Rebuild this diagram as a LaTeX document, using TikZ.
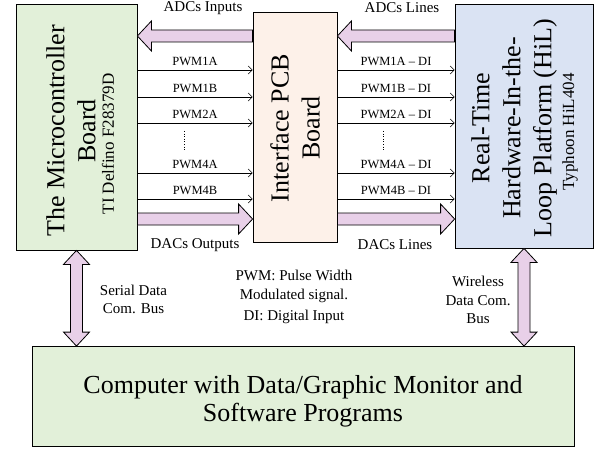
\documentclass[tikz,border=0pt]{standalone}
\usepackage{fontspec}
\setmainfont{Liberation Serif}
\usetikzlibrary{calc,arrows.meta}
\definecolor{boardgreen}{HTML}{E2F0D9}
\definecolor{pcbpeach}{HTML}{FDF1E9}
\definecolor{hilblue}{HTML}{DAE3F3}
\definecolor{buspink}{HTML}{E8D0E8}
% fat horizontal bus arrow from #1 to #2
\newcommand{\fatbus}[2]{%
  \draw[fatarrow] let \p1=(#1), \p2=(#2), \n1={ifthenelse(\x2>\x1,1,-1)} in
    (\x1,\y1+6pt) -- (\x2-\n1*14pt,\y1+6pt) -- (\x2-\n1*14pt,\y1+15pt) -- (\x2,\y1)
    -- (\x2-\n1*14pt,\y1-15pt) -- (\x2-\n1*14pt,\y1-6pt) -- (\x1,\y1-6pt) -- cycle;}
% fat vertical two-way arrow, #1 on top
\newcommand{\fatlink}[2]{%
  \draw[fatarrow] let \p1=(#1), \p2=(#2) in
    (\x1,\y1) -- (\x1+13pt,\y1-14pt) -- (\x1+6pt,\y1-14pt) -- (\x1+6pt,\y2+14pt)
    -- (\x1+13pt,\y2+14pt) -- (\x1,\y2) -- (\x1-13pt,\y2+14pt) -- (\x1-6pt,\y2+14pt)
    -- (\x1-6pt,\y1-14pt) -- (\x1-13pt,\y1-14pt) -- cycle;}
\begin{document}
\begin{tikzpicture}[x=1pt,y=1pt,
    box/.style={draw,rectangle,inner sep=0pt,line width=0.8pt},
    bigtext/.style={font=\fontsize{26}{31}\selectfont,align=center,inner sep=0pt},
    subtext/.style={font=\fontsize{17}{20}\selectfont,inner sep=0pt},
    note/.style={font=\fontsize{15}{18.5}\selectfont,align=center,inner sep=0pt},
    sig/.style={font=\fontsize{12.5}{15}\selectfont,inner sep=0pt},
    wire/.style={-{Straight Barb[length=4pt,width=8pt]},line width=0.6pt},
    fatarrow/.style={draw,fill=buspink,line width=0.8pt,line join=miter}]
  \useasboundingbox (0,0) rectangle (608,448);
  % boxes
  \node[box,fill=boardgreen,minimum width=121pt,minimum height=246pt] (mcu) at (76.5,321) {};
  \node[box,fill=pcbpeach,minimum width=84pt,minimum height=230pt] (pcb) at (295,321) {};
  \node[box,fill=hilblue,minimum width=138pt,minimum height=244pt] (hil) at (524,322) {};
  \node[box,fill=boardgreen,minimum width=542pt,minimum height=100pt] (pc) at (303,51.5) {};
  % box texts
  \node[bigtext,rotate=90] (mcutxt) at (71,317) {The Microcontroller\\Board};
  \node[subtext,rotate=90] (mcusub) at (108,304) {TI Delfino F28379D};
  \node[bigtext,rotate=90] (pcbtxt) at (295,320) {Interface PCB\\Board};
  \node[bigtext,rotate=90] (hiltxt) at (514,320) {Real-Time\\Hardware-In-the-\\Loop Platform (HiL)};
  \node[subtext,rotate=90] (hilsub) at (570,316) {Typhoon HiL404};
  \node[bigtext,font=\fontsize{26}{28}\selectfont] (pctxt) at (303,47) {Computer with Data/Graphic Monitor and\\Software Programs};
  % PWM wires
  \foreach \y/\name in {378/PWM1A, 351/PWM1B, 325/PWM2A, 275/PWM4A, 249/PWM4B} {
    \draw[wire] (mcu.east|-0,\y) -- (pcb.west|-0,\y) node[sig,midway,above=4pt] {\name};
    \draw[wire] (pcb.east|-0,\y) -- (hil.west|-0,\y) node[sig,midway,above=4pt] {\name{} -- DI};
  }
  \draw[dotted,line width=0.6pt] (184,317) -- (184,298);
  \draw[dotted,line width=0.6pt] (383,317) -- (383,298);
  % buses
  \coordinate (adc) at (0,412);
  \coordinate (dac) at (0,229);
  \fatbus{pcb.west|-adc}{mcu.east|-adc}
  \fatbus{hil.west|-adc}{pcb.east|-adc}
  \fatbus{mcu.east|-dac}{pcb.west|-dac}
  \fatbus{pcb.east|-dac}{hil.west|-dac}
  \fatlink{mcu.south}{mcu.south|-pc.north}
  \fatlink{hil.south}{hil.south|-pc.north}
  % labels
  \node[note] (adcin) at (203,440) {ADCs Inputs};
  \node[note] (adcln) at (402,440) {ADCs Lines};
  \node[note] (dacout) at (195,203) {DACs Outputs};
  \node[note] (dacln) at (395,203) {DACs Lines};
  \node[note] (serial) at (133.5,148.5) {Serial Data\\Com. Bus};
  \node[note] (wless) at (478,148) {Wireless\\Data Com.\\Bus};
  \node[note] (abbr) at (294,151) {PWM: Pulse Width\\Modulated signal.\\[3pt]DI: Digital Input};
\end{tikzpicture}
\end{document}
